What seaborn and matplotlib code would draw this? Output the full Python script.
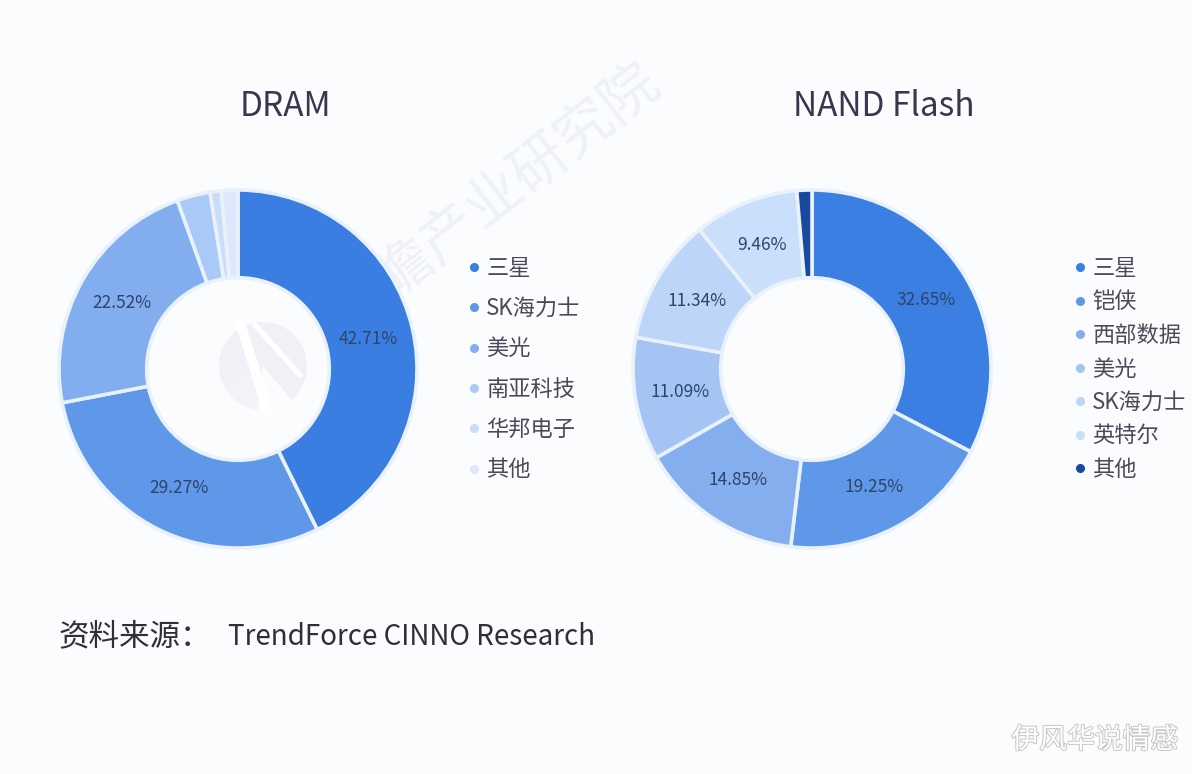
import matplotlib
matplotlib.use("Agg")
import matplotlib.pyplot as plt
import matplotlib.patheffects as pe
from matplotlib.lines import Line2D
from matplotlib.patches import Wedge
import seaborn as sns

# ========================
# Data
# ========================
dram_names = ["三星", "SK海力士", "美光", "南亚科技", "华邦电子", "其他"]
dram_share = [42.71, 29.27, 22.52, 3.0, 1.0, 1.5]
dram_colors = ["#3a7ee2", "#5f98e9", "#82aef0", "#a9c9f6", "#c9ddf9", "#dde9fb"]

nand_names = ["三星", "铠侠", "西部数据", "美光", "SK海力士", "英特尔", "其他"]
nand_share = [32.65, 19.25, 14.85, 11.09, 11.34, 9.46, 1.36]
nand_colors = ["#3b7fe2", "#5f98e9", "#84aeee", "#a4c5f4", "#bcd5f8", "#c9dffb", "#174a9c"]

source_head = "资料来源："
source_text = "TrendForce CINNO Research"
watermark = "前瞻产业研究院"
corner_mark = "伊风华说情感"

W, H = 1192, 774
BG = "#fbfcfe"
EDGE = "#e9f1fb"
TEXT = "#3a3550"
LABEL = "#2f4468"

sns.set_theme(style="white")
plt.rcParams["font.family"] = ["Noto Sans CJK SC", "DejaVu Sans"]

fig = plt.figure(figsize=(W / 100, H / 100), dpi=100, facecolor=BG)


def px_axes(cx, cy, r):
    # square axes around a donut, given in image pixels
    return fig.add_axes([(cx - r) / W, 1 - (cy + r) / H, 2 * r / W, 2 * r / H])


def donut(ax, share, colors):
    def fmt(p):
        return f"{p:.2f}%" if p > 5 else ""

    _, _, autotexts = ax.pie(
        share, colors=sns.color_palette(colors), startangle=90, counterclock=False,
        radius=1, pctdistance=0.745, autopct=fmt,
        wedgeprops={"width": 0.49, "edgecolor": EDGE, "linewidth": 2.6},
        textprops={"color": LABEL, "fontsize": 12.5},
    )
    ax.set_xlim(-1.02, 1.02)
    ax.set_ylim(-1.02, 1.02)
    ax.set_axis_off()
    return autotexts


def legend(ax, names, colors, anchor, spacing):
    handles = [
        Line2D([], [], linestyle="none", marker="o", markersize=5.5, color=c, label=n)
        for n, c in zip(names, colors)
    ]
    ax.legend(
        handles=handles, loc="center left", bbox_to_anchor=anchor,
        bbox_transform=fig.transFigure, frameon=False, fontsize=16,
        labelspacing=spacing, handletextpad=0.05, handlelength=1.0,
        labelcolor="#4a4a5a",
    )


# overlay for watermark layer, in image pixels
bg = fig.add_axes([0, 0, 1, 1], zorder=0)
bg.set_xlim(0, W)
bg.set_ylim(H, 0)
bg.set_axis_off()
bg.text(495, 198, watermark, rotation=38, rotation_mode="anchor", ha="center", va="center",
        fontsize=41, color="#eef1f7")

# faint logo in the DRAM hole
logo = fig.add_axes([0, 0, 1, 1], zorder=3)
logo.set_xlim(0, W)
logo.set_ylim(0, H)
logo.set_axis_off()
logo.patch.set_alpha(0)
logo.add_patch(Wedge((263, H - 366), 44, -50, 205, width=None, facecolor="#eff1f6", edgecolor="none"))
logo.add_patch(Wedge((263, H - 366), 44, 205, 262, facecolor="#f2f3f8", edgecolor="none"))
logo.plot([240, 268], [H - 322, H - 412], color="white", lw=7)
logo.plot([255, 300], [H - 325, H - 375], color="white", lw=4)

ax1 = px_axes(238, 369, 182.6)
ax2 = px_axes(812, 369, 182.6)
ax1.set_zorder(2)
ax2.set_zorder(2)
donut(ax1, dram_share, dram_colors)
donut(ax2, nand_share, nand_colors)
legend(ax1, dram_names, dram_colors, (443 / W, 1 - 369 / H), 0.78)
legend(ax2, nand_names, nand_colors, (1049 / W, 1 - 369 / H), 0.47)

fig.text(285 / W, 1 - 107 / H, "DRAM", ha="center", va="center", fontsize=24, color=TEXT)
fig.text(884 / W, 1 - 107 / H, "NAND Flash", ha="center", va="center", fontsize=24, color=TEXT)

fig.text(58 / W, 1 - 637 / H, source_head, ha="left", va="center", fontsize=22, color="#2f2f3a")
fig.text(228 / W, 1 - 637 / H, source_text, ha="left", va="center", fontsize=20, color="#2f2f3a")

fig.text(1178 / W, 1 - 740 / H, corner_mark, ha="right", va="center", fontsize=20, color="white",
         path_effects=[pe.withStroke(linewidth=1.5, foreground="#c9c9c9")])

fig.savefig("out.png", dpi=100, facecolor=BG)
